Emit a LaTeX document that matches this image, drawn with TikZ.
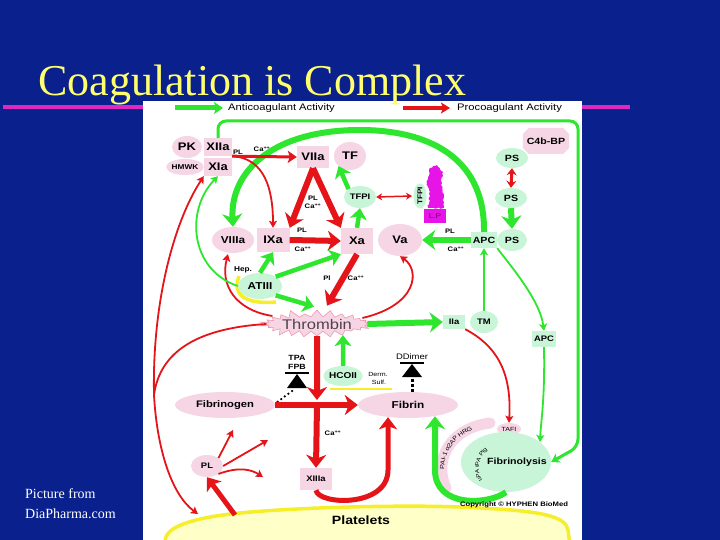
\documentclass[tikz,border=0pt]{standalone}
\usepackage{fontspec}
\usepackage{graphicx}
\setmainfont{Liberation Serif}
\newfontfamily\sansf[FakeStretch=1.18]{Liberation Sans}
\usetikzlibrary{arrows.meta,shapes.geometric,shapes.symbols,shapes.misc,decorations.text,decorations.pathmorphing,calc}
\definecolor{bgblue}{RGB}{10,32,140}
\definecolor{titley}{RGB}{255,255,110}
\definecolor{magline}{RGB}{225,40,190}
\definecolor{pinkn}{RGB}{246,214,228}
\definecolor{greenn}{RGB}{200,245,215}
\definecolor{garr}{RGB}{45,230,45}
\definecolor{rarr}{RGB}{228,20,25}
\definecolor{lpmag}{RGB}{230,20,230}
\definecolor{platefill}{RGB}{255,255,200}
\definecolor{plateedge}{RGB}{245,238,40}
\definecolor{burstedge}{RGB}{240,150,175}
\begin{document}
\begin{tikzpicture}[x=1pt,y=-1pt,
  fs/.style={font=\sansf\bfseries\fontsize{#1}{#1}\selectfont},
  fr/.style={font=\sansf\fontsize{#1}{#1}\selectfont},
  wh/.style 2 args={minimum width=#1pt, minimum height=#2pt},
  pr/.style={rectangle, fill=pinkn, inner sep=0pt},
  pe/.style={ellipse, fill=pinkn, inner sep=0pt},
  gr/.style={rectangle, fill=greenn, inner sep=0pt},
  ge/.style={ellipse, fill=greenn, inner sep=0pt},
  tl/.style={inner sep=0pt, fs=6.5},
  rthick/.style={draw=rarr, line width=6pt, -{Stealth[length=13pt,width=20pt,inset=4pt]}},
  gthick/.style={draw=garr, line width=6pt, -{Stealth[length=13pt,width=20pt,inset=4pt]}},
  gmed/.style={draw=garr, line width=4.5pt, -{Stealth[length=11pt,width=17pt,inset=3pt]}},
  rmed/.style={draw=rarr, line width=3pt, -{Stealth[length=9pt,width=12pt,inset=2pt]}},
  rthin/.style={draw=rarr, line width=1.8pt, -{Stealth[length=7pt,width=8pt,inset=1.5pt]}},
  gthin/.style={draw=garr, line width=1.8pt, -{Stealth[length=7pt,width=8pt,inset=1.5pt]}},
]
\fill[bgblue] (0,0) rectangle (720,540);
\useasboundingbox (0,0) rectangle (720,540);
\fill[white] (143,101) rectangle (582,540);
\fill[magline] (3,105) rectangle (143,109);
\fill[magline] (582,105) rectangle (630,109);

% title and source
\node[anchor=base west, text=titley, font=\fontsize{44}{44}\selectfont, inner sep=0pt] (title) at (38,96) {Coagulation is Complex};
\node[anchor=base west, text=white, font=\fontsize{14}{14}\selectfont, inner sep=0pt] (src1) at (25,498) {Picture from};
\node[anchor=base west, text=white, font=\fontsize{14}{14}\selectfont, inner sep=0pt] (src2) at (25,518) {DiaPharma.com};

% legend
\coordinate (lgA) at (175,108); \coordinate (lgB) at (223,108);
\draw[garr, line width=5pt, -{Stealth[length=9pt,width=12pt,inset=2pt]}] (lgA) -- (lgB);
\node[anchor=west, fr=9.5, inner sep=0pt] (lgtxt) at (228,108) {Anticoagulant Activity};
\coordinate (lrA) at (403,108); \coordinate (lrB) at (450,108);
\draw[rarr, line width=3.5pt, -{Stealth[length=9pt,width=11pt,inset=2pt]}] (lrA) -- (lrB);
\node[anchor=west, fr=9.5, inner sep=0pt] (lrtxt) at (457,108) {Procoagulant Activity};

% platelets
\filldraw[fill=platefill, draw=plateedge, line width=3.5pt]
  (166,545) .. controls (160,528) and (190,518) .. (240,513)
  .. controls (300,507) and (420,504) .. (480,508)
  .. controls (540,511) and (566,516) .. (568,530) -- (570,545) -- cycle;
\node[fs=12, inner sep=0pt] (Platelets) at (361,520) {Platelets};
\coordinate (plA) at (235,515);
\coordinate (plB) at (198,514);

% nodes
\node[pe, fs=11, wh={30}{22}] (PK) at (187,147) {PK};
\node[pr, fs=11, wh={28}{18}] (XIIa) at (218,147) {XIIa};
\node[pe, fs=7, wh={32}{16}] (HMWK) at (185,167) {HMWK};
\node[pr, fs=11, wh={28}{18}] (XIa) at (218,167) {XIa};
\node[pr, fs=11, wh={32}{22}] (VIIa) at (313,157) {VIIa};
\node[pe, fs=11, wh={32}{28}] (TF) at (350,156) {TF};
\node[ge, fs=8, wh={32}{22}] (TFPI) at (360,197) {TFPI};
\node[ge, fs=7, wh={22}{13}, rotate=90] (TFPIr) at (420,196) {TFPI};
\fill[lpmag, decorate, decoration={random steps, segment length=2pt, amplitude=1pt}]
  (430,168) -- (437,165) -- (443,172) -- (441,185) -- (444,197) -- (443,208) -- (428,208) -- (430,196) -- (427,183) -- cycle;
\node[rectangle, fill=lpmag, wh={22}{14}, fr=7, text={rgb,255:red,110;green,0;blue,110}, inner sep=0pt] (LP) at (435,216) {L.P};
\node[chamfered rectangle, fill=pinkn, fs=9, wh={44}{26}, inner sep=1pt] (C4b) at (546,141) {C4b-BP};
\node[ge, fs=9, wh={32}{20}] (PS1) at (512,158) {PS};
\node[ge, fs=9, wh={32}{20}] (PS2) at (511,198) {PS};
\node[ge, fs=9, wh={30}{22}] (PS3) at (512,240) {PS};
\node[gr, fs=9, wh={26}{16}] (APC) at (484,240) {APC};
\node[pe, fs=11, wh={44}{32}] (Va) at (400,240) {Va};
\node[pr, fs=11, wh={32}{26}] (Xa) at (357,241) {Xa};
\node[pr, fs=11, wh={33}{24}] (IXa) at (273,240) {IXa};
\node[pe, fs=10, wh={42}{26}] (VIIIa) at (233,240) {VIIIa};
\draw[plateedge, line width=3.5pt] (239,276) .. controls (230,300) and (255,304) .. (276,302);
\node[ge, fs=10, wh={44}{26}] (ATIII) at (260,286) {ATIII};
\node[starburst, starburst points=26, starburst point height=8pt, random starburst=60,
  fill=pinkn, draw=burstedge, line width=0.6pt, wh={80}{20}, inner sep=0pt,
  fr=14, text={rgb,255:red,80;green,65;blue,75}] (Thrombin) at (317,324) {Thrombin};
\node[gr, fs=8, wh={22}{14}] (IIa) at (454,322) {IIa};
\node[ge, fs=8, wh={28}{22}] (TM) at (484,322) {TM};
\node[gr, fs=8, wh={24}{16}] (APC2) at (544,339) {APC};
\draw[plateedge, line width=2.5pt] (330,389) -- (392,389);
\node[ge, fs=8.5, wh={34}{20}] (HCOII) at (343,376) {HCOII};
\node[pe, fs=9.5, wh={100}{26}] (Fibrinogen) at (225,405) {Fibrinogen};
\node[pe, fs=10, wh={100}{26}] (Fibrin) at (408,405) {Fibrin};
\node[pe, fr=6, wh={24}{12}] (TAFI) at (509,429) {TAFI};
\node[ge, wh={90}{60}] (Fibrinolysis) at (506,462) {};
\node[fs=9, inner sep=0pt] (Fibtext) at (517,462) {Fibrinolysis};
\node[pe, fs=8, wh={32}{22}] (PL) at (207,466) {PL};
\node[pr, fs=8, wh={32}{22}] (XIIIa) at (316,479) {XIIIa};

% arcs around fibrinolysis
\draw[pinkn, line width=11pt, line cap=round] (446,488) .. controls (433,460) and (450,428) .. (490,423);
\path[decorate, decoration={text along path, text align=center, raise=-2.5pt,
  text={|\sansf\fontsize{6}{6}\selectfont|PAI-1 α2AP HRG}}]
  (446,488) .. controls (433,460) and (450,428) .. (490,423);
\path[decorate, decoration={text along path, text align=center, raise=-2pt,
  text={|\sansf\fontsize{5.5}{5.5}\selectfont|uPA  tPA  Plg}}]
  (486,488) .. controls (472,476) and (474,452) .. (494,444);

% green top frame
\draw[garr, line width=3pt, rounded corners=8pt, -{Stealth[length=8pt,width=10pt,inset=2pt]}]
  (XIIa.north) -- (218,121) -- (578,121) -- (578,447) -- (Fibrinolysis.east);

% big green arc APC -> VIIIa
\draw[gthick] (APC.north) .. controls (485,155) and (425,130) .. (360,130)
  .. controls (272,130) and (230,172) .. (VIIIa.north);

% inhibition symbols
\coordinate (tpaS) at (297,374);
\draw[black, line width=2.5pt] (285,373) -- (309,373);
\fill[black] (287,388) -- (307,388) -- (tpaS) -- cycle;
\coordinate (dotA) at (292,391); \coordinate (dotB) at (276,403);
\draw[black, line width=2.5pt, line cap=round, dash pattern=on 0pt off 4.5pt] (dotA) -- (dotB);
\coordinate (ddS) at (412,364);
\draw[black, line width=2.5pt] (400,363) -- (424,363);
\fill[black] (402,377) -- (422,377) -- (ddS) -- cycle;
\draw[black, line width=3pt, dash pattern=on 3pt off 2pt] (412,379) -- ($(Fibrin.north)+(4,1)$);

% red procoagulant arrows
\draw[rmed] (XIIa.south east) -- (VIIa.west);
\draw[rthin] (XIIa.south east) .. controls (265,158) and (273,190) .. (IXa.north);
\draw[rthick] (VIIa.south) -- (IXa.north east);
\draw[rthick] (VIIa.south) -- (Xa.north west);
\draw[rthick] (IXa.east) -- (Xa.west);
\draw[rthick] (Xa.south) -- ($(Thrombin.north)+(10,-4)$);
\draw[rthin] ($(Thrombin.east)+(-5,-6)$) .. controls (418,305) and (420,270) .. (Va.south);
\draw[rthin] ($(Thrombin.west)+(6,-8)$) .. controls (235,310) and (220,285) .. ($(VIIIa.south)+(-5,1)$);
\coordinate (rsplit) at (154,395);
\draw[draw=rarr, line width=1.8pt] (Thrombin.west) .. controls (200,328) and (160,350) .. (rsplit);
\draw[rthin] (rsplit) .. controls (152,300) and (175,220) .. (XIa.south west);
\draw[rthin] (rsplit) .. controls (157,450) and (172,495) .. (plB);
\coordinate (vtip) at (317,400);
\coordinate (vcross) at (317,405);
\draw[rthick] (Thrombin.south) -- (vtip);
\draw[rthick] (Fibrinogen.east) -- (Fibrin.west);
\draw[rthick] (vcross) -- (XIIIa.north);
\draw[draw=rarr, line width=5pt, -{Stealth[length=12pt,width=18pt,inset=3pt]}]
  (XIIIa.south) .. controls (318,505) and (388,508) .. (388,470) -- ($(Fibrin.south)+(-20,-1)$);
\draw[draw=rarr, line width=5pt, -{Stealth[length=12pt,width=18pt,inset=3pt]}] (plA) -- (PL.south);
\draw[rthin] (PL.north east) -- (233,430);
\draw[rthin] (PL.east) -- (268,440);
\draw[rthin] (PL.south east) .. controls (240,466) and (252,470) .. (263,477);
\draw[rthin] (IIa.south east) .. controls (495,345) and (512,370) .. (TAFI.north);
\draw[rmed, {Stealth[length=7pt,width=10pt]}-{Stealth[length=7pt,width=10pt]}] (PS1.south) -- (PS2.north);
\draw[draw=rarr, line width=1.5pt, {Stealth[length=6pt,width=7pt]}-{Stealth[length=6pt,width=7pt]}] (TFPI.east) -- ($(TFPIr.center)+(-8,0)$);

% green anticoagulant arrows
\draw[gthin] (ATIII.west) .. controls (190,270) and (185,210) .. (XIa.south);
\draw[gmed] (ATIII.north) -- (IXa.south);
\draw[gmed] (ATIII.north east) -- (Xa.south west);
\draw[gmed] (ATIII.south east) -- ($(Thrombin.north)+(-3,-3)$);
\draw[gmed] (TFPI.north west) -- (TF.south west);
\draw[gmed] (Xa.north) -- (TFPI.south);
\draw[gthick] (APC.west) -- (Va.east);
\draw[gthick] (PS2.south) -- (PS3.north);
\draw[gthick] (Thrombin.east) -- (IIa.west);
\draw[gmed] (HCOII.north) -- ($(Thrombin.south)+(26,-1)$);
\draw[gthin] (TM.north) -- (APC.south);
\draw[gthin] (APC.south east) .. controls (510,265) and (540,300) .. (APC2.north);
\draw[gthin] (APC2.south) .. controls (545,400) and (541,420) .. ($(Fibrinolysis.center)+(34,-20)$);
\draw[gthick] (Fibrinolysis.south) .. controls (488,505) and (435,508) .. (435,470) -- ($(Fibrin.south)+(27,-2)$);

% small labels (on top)
\node[tl] (l1) at (238,152) {PL};
\node[tl] (l2) at (262,149) {Ca\textsuperscript{++}};
\node[tl] (l3) at (313,198) {PL};
\node[tl] (l4) at (313,206) {Ca\textsuperscript{++}};
\node[tl] (l5) at (302,230) {PL};
\node[tl] (l6) at (303,249) {Ca\textsuperscript{++}};
\node[tl] (l7) at (450,231) {PL};
\node[tl] (l8) at (456,249) {Ca\textsuperscript{++}};
\node[tl] (l9) at (327,278) {Pl};
\node[tl] (l10) at (356,278) {Ca\textsuperscript{++}};
\node[tl, fs=7] (hep) at (243,270) {Hep.};
\node[tl, fs=7.5] (tpa) at (297,358) {TPA};
\node[tl, fs=7.5] (fpb) at (297,367) {FPB};
\node[inner sep=0pt, fr=8] (ddimer) at (412,357) {DDimer};
\node[tl, fr=6] (derm) at (378,374) {Derm.};
\node[tl, fr=6] (sulf) at (379,382) {Sulf.};
\node[tl] (l11) at (333,433) {Ca\textsuperscript{++}};
\node[tl, fs=6.5] (copy) at (514,505) {Copyright \textcopyright\ HYPHEN BioMed};
\end{tikzpicture}
\end{document}
